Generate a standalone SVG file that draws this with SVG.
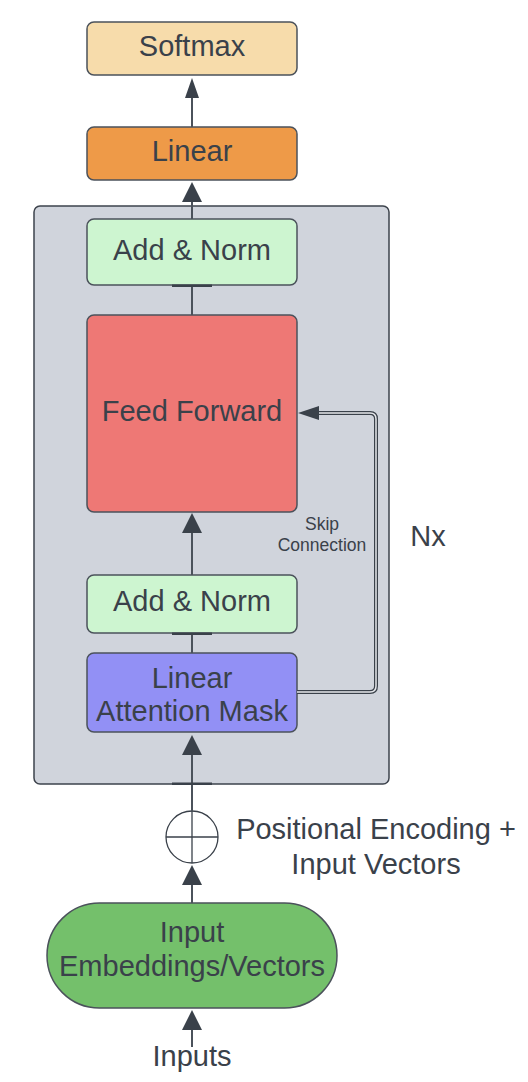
<svg xmlns="http://www.w3.org/2000/svg" width="528" height="1082" viewBox="0 0 528 1082">
<style>
.box{stroke:#4b525b;stroke-width:1.5}
.t{font-family:"Liberation Sans",Arial,sans-serif;font-size:29px;fill:#3a414a;text-anchor:middle}
.s{font-family:"Liberation Sans",Arial,sans-serif;font-size:17.5px;fill:#3a414a;text-anchor:middle}
.ln{stroke:#4b525b;stroke-width:2;fill:none}
.ah{fill:#3a414a}
.bar{fill:#3a414a}
</style>
<rect width="528" height="1082" fill="#ffffff"/>
<g id="container">
<rect x="34" y="206" width="355" height="578" rx="6" fill="#d0d4dc" stroke="#3d434c" stroke-width="1.5"/>
</g>
<g id="softmax">
<rect class="box" x="87" y="22" width="210" height="53" rx="7" fill="#f7dcab"/>
<text class="t" x="192" y="56">Softmax</text>
</g>
<g id="linear">
<rect class="box" x="87" y="127" width="210" height="53" rx="7" fill="#ee9a48"/>
<text class="t" x="192" y="161">Linear</text>
</g>
<g id="addnorm1">
<rect class="box" x="87" y="219" width="210" height="66" rx="7" fill="#cdf5d0"/>
<text class="t" x="192" y="260">Add &amp; Norm</text>
</g>
<g id="feedforward">
<rect class="box" x="87" y="315" width="210" height="197" rx="7" fill="#ee7875"/>
<text class="t" x="192" y="421">Feed Forward</text>
</g>
<g id="addnorm2">
<rect class="box" x="87" y="575" width="210" height="58" rx="7" fill="#cdf5d0"/>
<text class="t" x="192" y="611">Add &amp; Norm</text>
</g>
<g id="lam">
<rect class="box" x="87" y="653" width="210" height="79" rx="7" fill="#9290f5"/>
<text class="t" x="192" y="688">Linear</text>
<text class="t" x="192" y="721">Attention Mask</text>
</g>
<g id="posenc">
<circle cx="192" cy="837" r="26" fill="#ffffff" stroke="#3a414a" stroke-width="1.3"/>
<line x1="166" y1="837" x2="218" y2="837" stroke="#3a414a" stroke-width="1.3"/>
<line x1="192" y1="811" x2="192" y2="863" stroke="#3a414a" stroke-width="1.3"/>
<text class="t" x="376" y="839">Positional Encoding +</text>
<text class="t" x="376" y="874">Input Vectors</text>
</g>
<g id="embeddings">
<rect class="box" x="47" y="903" width="290" height="105" rx="52.5" fill="#74c06b"/>
<text class="t" x="192" y="942">Input</text>
<text class="t" x="192" y="976">Embeddings/Vectors</text>
</g>
<g id="inputs">
<text class="t" x="192" y="1066">Inputs</text>
</g>
<g id="nx">
<text class="t" x="428" y="546">Nx</text>
</g>
<g id="skiplabel">
<text class="s" x="322" y="530">Skip</text>
<text class="s" x="322" y="551">Connection</text>
</g>
<g id="connectors">
<line class="ln" x1="192" y1="127" x2="192" y2="96"/>
<polygon class="ah" points="192,78 185,98 199,98"/>
<line class="ln" x1="192" y1="219" x2="192" y2="200"/>
<polygon class="ah" points="192,182 182,202 202,202"/>
<line class="ln" x1="192" y1="315" x2="192" y2="285"/>
<rect class="bar" x="172" y="284.5" width="40" height="2.5"/>
<line class="ln" x1="192" y1="575" x2="192" y2="530"/>
<polygon class="ah" points="192,513 182,533 202,533"/>
<line class="ln" x1="192" y1="653" x2="192" y2="633"/>
<rect class="bar" x="172" y="632.5" width="40" height="2.5"/>
<line class="ln" x1="192" y1="811" x2="192" y2="752"/>
<polygon class="ah" points="192,735 182,755 202,755"/>
<rect class="bar" x="172" y="782.5" width="40" height="2.5"/>
<line class="ln" x1="192" y1="903" x2="192" y2="882"/>
<polygon class="ah" points="192,865 182,885 202,885"/>
<line class="ln" x1="192" y1="1047" x2="192" y2="1027"/>
<polygon class="ah" points="192,1010 182,1030 202,1030"/>
<path d="M297,692 H370 Q376,692 376,686 V419 Q376,413 370,413 H316" fill="none" stroke="#3a414a" stroke-width="4"/>
<path d="M297,692 H370 Q376,692 376,686 V419 Q376,413 370,413 H316" fill="none" stroke="#e6e8ec" stroke-width="1.5"/>
<polygon class="ah" points="298,413 319,406 319,420"/>
</g>
</svg>
